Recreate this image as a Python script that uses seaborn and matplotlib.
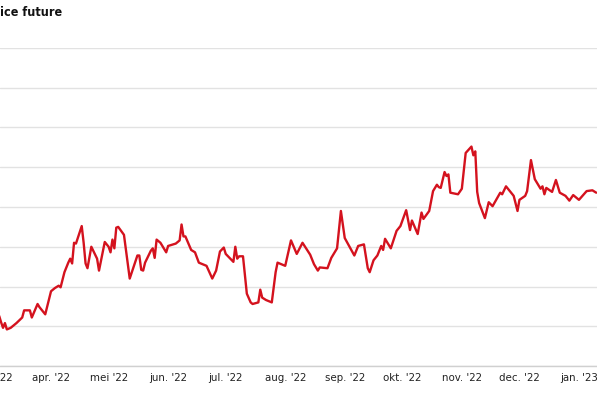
import numpy as np
import pandas as pd
import matplotlib
matplotlib.use("Agg")
import matplotlib.pyplot as plt
import matplotlib.dates as mdates
from matplotlib import font_manager
import seaborn as sns

# data (price per day, y axis has no visible labels)
dates = [
    "2022-03-05", "2022-03-06", "2022-03-07", "2022-03-08", "2022-03-09", "2022-03-11",
    "2022-03-14", "2022-03-17", "2022-03-18", "2022-03-21", "2022-03-22", "2022-03-25",
    "2022-03-26", "2022-03-29", "2022-04-01", "2022-04-03", "2022-04-05", "2022-04-06",
    "2022-04-08", "2022-04-10", "2022-04-11", "2022-04-12", "2022-04-13", "2022-04-14",
    "2022-04-17", "2022-04-18", "2022-04-19", "2022-04-20", "2022-04-22", "2022-04-25",
    "2022-04-26", "2022-04-29", "2022-05-01", "2022-05-02", "2022-05-03", "2022-05-04",
    "2022-05-05", "2022-05-06", "2022-05-09", "2022-05-12", "2022-05-16", "2022-05-17",
    "2022-05-18", "2022-05-19", "2022-05-20", "2022-05-23", "2022-05-24", "2022-05-25",
    "2022-05-26", "2022-05-28", "2022-05-31", "2022-06-01", "2022-06-05", "2022-06-07",
    "2022-06-08", "2022-06-09", "2022-06-10", "2022-06-13", "2022-06-15", "2022-06-17",
    "2022-06-21", "2022-06-24", "2022-06-26", "2022-06-28", "2022-06-30", "2022-07-01",
    "2022-07-05", "2022-07-06", "2022-07-07", "2022-07-08", "2022-07-10", "2022-07-12",
    "2022-07-14", "2022-07-15", "2022-07-18", "2022-07-19", "2022-07-20", "2022-07-22",
    "2022-07-25", "2022-07-27", "2022-07-28", "2022-08-01", "2022-08-04", "2022-08-07",
    "2022-08-10", "2022-08-14", "2022-08-16", "2022-08-18", "2022-08-19", "2022-08-23",
    "2022-08-25", "2022-08-28", "2022-08-30", "2022-09-01", "2022-09-06", "2022-09-08",
    "2022-09-11", "2022-09-13", "2022-09-14", "2022-09-16", "2022-09-18", "2022-09-20",
    "2022-09-21", "2022-09-22", "2022-09-25", "2022-09-28", "2022-09-30", "2022-10-03",
    "2022-10-05", "2022-10-06", "2022-10-09", "2022-10-11", "2022-10-12", "2022-10-15",
    "2022-10-17", "2022-10-19", "2022-10-20", "2022-10-21", "2022-10-23", "2022-10-24",
    "2022-10-25", "2022-10-26", "2022-10-30", "2022-11-01", "2022-11-03", "2022-11-06",
    "2022-11-07", "2022-11-08", "2022-11-09", "2022-11-10", "2022-11-13", "2022-11-15",
    "2022-11-17", "2022-11-21", "2022-11-22", "2022-11-24", "2022-11-28", "2022-11-30",
    "2022-12-01", "2022-12-04", "2022-12-05", "2022-12-07", "2022-12-09", "2022-12-12",
    "2022-12-13", "2022-12-14", "2022-12-15", "2022-12-18", "2022-12-20", "2022-12-22",
    "2022-12-25", "2022-12-27", "2022-12-29", "2023-01-01", "2023-01-05", "2023-01-08",
    "2023-01-10",
]
prices = [
    14.63, 14.55, 14.48, 14.54, 14.46, 14.48,
    14.54, 14.61, 14.70, 14.70, 14.61, 14.78,
    14.74, 14.65, 14.94, 14.98, 15.01, 14.99,
    15.18, 15.30, 15.35, 15.29, 15.55, 15.54,
    15.76, 15.55, 15.29, 15.23, 15.50, 15.35,
    15.20, 15.56, 15.50, 15.43, 15.59, 15.48,
    15.74, 15.75, 15.65, 15.10, 15.39, 15.39,
    15.21, 15.20, 15.30, 15.45, 15.48, 15.36,
    15.59, 15.55, 15.43, 15.51, 15.54, 15.58,
    15.78, 15.63, 15.63, 15.46, 15.43, 15.30,
    15.26, 15.10, 15.20, 15.44, 15.49, 15.41,
    15.31, 15.50, 15.35, 15.38, 15.38, 14.91,
    14.80, 14.78, 14.80, 14.96, 14.86, 14.83,
    14.80, 15.18, 15.30, 15.26, 15.58, 15.41,
    15.55, 15.40, 15.28, 15.20, 15.24, 15.23,
    15.36, 15.48, 15.95, 15.61, 15.39, 15.51,
    15.53, 15.23, 15.18, 15.33, 15.39, 15.51,
    15.46, 15.60, 15.48, 15.70, 15.76, 15.96,
    15.71, 15.83, 15.66, 15.93, 15.85, 15.95,
    16.20, 16.28, 16.25, 16.24, 16.44, 16.39,
    16.41, 16.18, 16.16, 16.23, 16.68, 16.76,
    16.65, 16.70, 16.19, 16.05, 15.86, 16.06,
    16.01, 16.18, 16.16, 16.26, 16.14, 15.95,
    16.09, 16.14, 16.20, 16.59, 16.35, 16.23,
    16.26, 16.16, 16.24, 16.19, 16.34, 16.18,
    16.14, 16.08, 16.15, 16.09, 16.20, 16.21,
    16.18,
]
month_ticks = ["2022-03-01", "2022-04-01", "2022-05-01", "2022-06-01", "2022-07-01",
               "2022-08-01", "2022-09-01", "2022-10-01", "2022-11-01", "2022-12-01",
               "2023-01-01"]
month_labels = ["mar. '22", "apr. '22", "mei '22", "jun. '22", "jul. '22", "aug. '22",
                "sep. '22", "okt. '22", "nov. '22", "dec. '22", "jan. '23"]
grid_values = np.arange(14.0, 18.01, 0.5)

df = pd.DataFrame({"date": pd.to_datetime(dates), "price": prices})

sns.set_style("white")
plt.rcParams["font.family"] = ["Roboto", "DejaVu Sans"]

# look for a narrow font, the original uses a condensed face
narrow = {}
for f in font_manager.fontManager.ttflist:
    if f.stretch in ("condensed", "semi-condensed", "extra-condensed") or "Narrow" in f.name or "Condensed" in f.name:
        if f.style == "normal":
            key = "bold" if f.weight in ("bold", 700, "heavy", 800, 900) else "regular"
            narrow.setdefault(key, f.fname)

if "regular" in narrow:
    tick_font = font_manager.FontProperties(fname=narrow["regular"], size=8.2)
    title_font = font_manager.FontProperties(fname=narrow.get("bold", narrow["regular"]), size=9,
                                             weight="bold")
else:
    tick_font = font_manager.FontProperties(family="Roboto", size=7.6, weight="medium")
    title_font = font_manager.FontProperties(family="Roboto", size=8.6, weight="bold")

fig = plt.figure(figsize=(5.97, 3.98), dpi=100)
ax = fig.add_axes([0, 0.0804, 1, 0.799])

sns.lineplot(data=df, x="date", y="price", ax=ax, color="#d4121e", linewidth=1.7)

ax.set_yticks(grid_values)
ax.set_yticklabels([])
ax.yaxis.grid(True, color="#e2e2e2", linewidth=1)
ax.xaxis.grid(False)
ax.tick_params(axis="y", length=0)
ax.set_xticks([])

start = pd.Timestamp("2022-03-01")
ax.set_xlim(start + pd.Timedelta(days=4.43), start + pd.Timedelta(days=315.4))
ax.set_ylim(14.0, 18.0)

# month labels as annotations, so the one left of the view (mar.) still shows its tail
for d, lab in zip(mdates.date2num(pd.to_datetime(month_ticks)), month_labels):
    ax.annotate(lab, xy=(d, 0), xycoords=ax.get_xaxis_transform(),
                xytext=(0, -5), textcoords="offset points",
                ha="center", va="top", fontproperties=tick_font, color="#222222",
                annotation_clip=False)

for s in ["top", "left", "right"]:
    ax.spines[s].set_visible(False)
ax.spines["bottom"].set_color("#d0d0d0")
ax.spines["bottom"].set_linewidth(1)

ax.set_xlabel("")
ax.set_ylabel("")

fig.text(0.0, 1 - 12 / 398, "ice future", fontproperties=title_font,
         color="#111111", ha="left", va="center")

fig.savefig("out.png", dpi=100)
